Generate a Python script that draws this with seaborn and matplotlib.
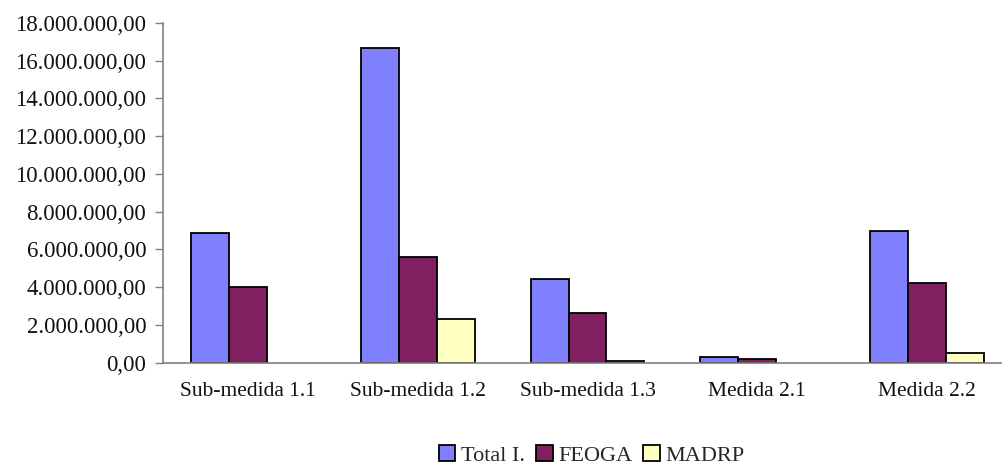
import pandas as pd
import seaborn as sns
import matplotlib.pyplot as plt
import matplotlib.ticker as mticker
from matplotlib.patches import Patch

categories = ['Sub-medida 1.1', 'Sub-medida 1.2', 'Sub-medida 1.3', 'Medida 2.1', 'Medida 2.2']
series = ['Total I.', 'FEOGA', 'MADRP']
total_i = [6860000, 16680000, 4440000, 320000, 6980000]
feoga = [4030000, 5620000, 2630000, 210000, 4240000]
madrp = [0, 2320000, 100000, 0, 510000]
colors = ['#8080FF', '#802060', '#FFFFC0']
yticks = list(range(0, 18000001, 2000000))

sns.set_theme(style="white")
plt.rcParams['font.family'] = ['Liberation Serif', 'DejaVu Serif']

df = pd.DataFrame({
    'cat': categories * 3,
    'serie': [s for s in series for _ in categories],
    'valor': total_i + feoga + madrp,
})

fig = plt.figure(figsize=(10.03, 4.68), dpi=100)
ax = fig.add_axes([163 / 1003, 1 - 362.7 / 468, (1012 - 163) / 1003, (362.7 - 23) / 468])

sns.barplot(data=df, x='cat', y='valor', hue='serie', hue_order=series,
            palette=colors, width=0.67, gap=0, edgecolor='black', linewidth=1.3,
            saturation=1, ax=ax, legend=False)

# zero bars in the original are not drawn at all
for p in ax.patches:
    if p.get_height() == 0:
        p.set_visible(False)

def fmt(v, pos):
    s = f"{v:,.2f}"
    return s.replace(',', 'X').replace('.', ',').replace('X', '.')

ax.set_ylim(0, 18000000)
ax.set_yticks(yticks)
ax.yaxis.set_major_formatter(mticker.FuncFormatter(fmt))
ax.set_xlim(-0.5, 4.5)
ax.set_xticks(range(5))
ax.set_xticklabels(categories)
ax.set_xticks([i - 0.5 for i in range(6)], minor=True)
ax.tick_params(axis='x', which='major', length=0, pad=14, labelsize=15.5, colors='#111111')
ax.tick_params(axis='x', which='minor', length=6, width=1, color='#808080', direction='out')
ax.tick_params(axis='y', length=6, width=1, color='#808080', direction='out', labelsize=16.5,
               pad=6, labelcolor='#111111', left=True)
ax.set_xlabel('')
ax.set_ylabel('')
for side in ['top', 'right']:
    ax.spines[side].set_visible(False)
for side in ['left', 'bottom']:
    ax.spines[side].set_color('#808080')
    ax.spines[side].set_linewidth(1.2)

handles = [Patch(facecolor=c, edgecolor='black', linewidth=1.3) for c in colors]
fig.legend(handles, series, loc='center', bbox_to_anchor=(0.59, 0.027), ncol=3, frameon=False,
           fontsize=16, handlelength=0.75, handleheight=0.75, handletextpad=0.25, columnspacing=0.5,
           borderaxespad=0)

fig.savefig('out.png', dpi=100)
